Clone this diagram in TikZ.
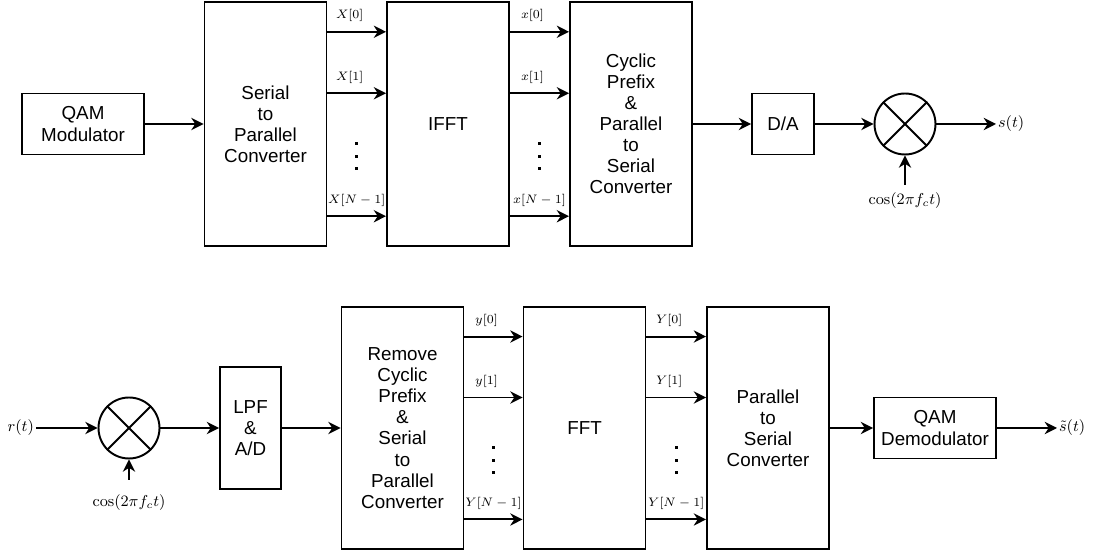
\documentclass[tikz,border=0pt]{standalone}
\usepackage{amsmath}
\usepackage{fontspec}
\newfontfamily\blockfont{Liberation Sans}
\usetikzlibrary{arrows.meta,calc,positioning}

\begin{document}
\begin{tikzpicture}[
  x=0.02cm,y=-0.02cm,
  block/.style={draw,line width=1.1pt,align=center,font=\blockfont\fontsize{10.7}{12}\selectfont,inner sep=0pt},
  tall/.style={block,minimum width=2.44cm},
  mixer/.style={draw,circle,line width=1.1pt,minimum size=1.22cm,inner sep=0pt},
  flow/.style={-{Stealth[length=7pt,width=7pt]},line width=1.1pt},
  sym/.style={font=\scriptsize,inner sep=1pt},
  wave/.style={font=\small,inner sep=1pt}
]
\useasboundingbox (0,0) rectangle (1099,553);

% Transmitter.
\node[block,minimum width=2.44cm,minimum height=1.22cm] (qam) at (83,124) {QAM\\Modulator};
\node[tall,minimum height=4.88cm] (sp) at (265.5,124) {Serial\\to\\Parallel\\Converter};
\node[tall,minimum height=4.88cm] (ifft) at (448,124) {IFFT};
\node[tall,minimum height=4.88cm] (cp) at (631,124) {Cyclic\\Prefix\\\&\\Parallel\\to\\Serial\\Converter};
\node[block,minimum width=1.24cm,minimum height=1.22cm] (da) at (783,124) {D/A};
\node[mixer] (mixa) at (905,124) {};
\draw[line width=1.1pt] (mixa.north east) -- (mixa.south west) (mixa.north west) -- (mixa.south east);
\node[wave,anchor=west] (st) at (996,124) {$s(t)$};
\coordinate (cosa) at (905,185);
\node[wave,anchor=north] (cosatext) at (905,191) {$\cos(2\pi f_c t)$};

\draw[flow] (qam.east) -- (qam.east -| sp.west);
\foreach \f/\n/\dx in {0.125/0/-4pt,0.375/1/-4pt,0.875/N-1/0pt} {
  \draw[flow] ($(sp.north east)!\f!(sp.south east)$) -- ($(ifft.north west)!\f!(ifft.south west)$)
    node[sym,midway,above=4pt,xshift=\dx] {$X[\n]$};
  \draw[flow] ($(ifft.north east)!\f!(ifft.south east)$) -- ($(cp.north west)!\f!(cp.south west)$)
    node[sym,midway,above=4pt,xshift=\dx] {$x[\n]$};
}
\coordinate (dotsa) at ($($(sp.north east)!0.631!(sp.south east)$)!0.5!($(ifft.north west)!0.631!(ifft.south west)$)$);
\coordinate (dotsb) at ($($(ifft.north east)!0.631!(ifft.south east)$)!0.5!($(cp.north west)!0.631!(cp.south west)$)$);
\foreach \d in {-12.5,0,12.5} {
  \fill ([shift={(-1.6,\d-1.6)}]dotsa) rectangle ++(3.2,3.2);
  \fill ([shift={(-1.6,\d-1.6)}]dotsb) rectangle ++(3.2,3.2);
}
\draw[flow] (cp.east |- da.west) -- (da.west);
\draw[flow] (da) -- (mixa);
\draw[flow] (mixa) -- (st);
\draw[flow] (cosa) -- (mixa);

% Receiver.
\node[wave,anchor=east] (rt) at (36,428) {$r(t)$};
\node[mixer] (mixb) at (129,428) {};
\draw[line width=1.1pt] (mixb.north east) -- (mixb.south west) (mixb.north west) -- (mixb.south east);
\coordinate (cosb) at (129,480);
\node[wave,anchor=north] (cosbtext) at (129,493) {$\cos(2\pi f_c t)$};
\node[block,minimum width=1.22cm,minimum height=2.44cm] (lpf) at (250.5,428) {LPF\\\&\\A/D};
\node[tall,minimum height=4.84cm] (rcp) at (402.5,428) {Remove\\Cyclic\\Prefix\\\&\\Serial\\to\\Parallel\\Converter};
\node[tall,minimum height=4.84cm] (fft) at (584.5,428) {FFT};
\node[tall,minimum height=4.84cm] (ps) at (768,428) {Parallel\\to\\Serial\\Converter};
\node[block,minimum width=2.44cm,minimum height=1.22cm] (qamd) at (935,428) {QAM\\Demodulator};
\node[wave,anchor=west] (sh) at (1057,428) {$\tilde{s}(t)$};

\draw[flow] (rt) -- (mixb);
\draw[flow] (cosb) -- (mixb);
\draw[flow] (mixb) -- (lpf);
\draw[flow] (lpf) -- (rcp);
\foreach \f/\m/\n/\dx in {0.125/y/0/-4pt,0.375/y/1/-4pt,0.875/Y/N-1/0pt} {
  \draw[flow] ($(rcp.north east)!\f!(rcp.south east)$) -- ($(fft.north west)!\f!(fft.south west)$)
    node[sym,midway,above=4pt,xshift=\dx] {$\m[\n]$};
  \draw[flow] ($(fft.north east)!\f!(fft.south east)$) -- ($(ps.north west)!\f!(ps.south west)$)
    node[sym,midway,above=4pt,xshift=\dx] {$Y[\n]$};
}
\coordinate (dotsc) at ($($(rcp.north east)!0.632!(rcp.south east)$)!0.5!($(fft.north west)!0.632!(fft.south west)$)$);
\coordinate (dotsd) at ($($(fft.north east)!0.632!(fft.south east)$)!0.5!($(ps.north west)!0.632!(ps.south west)$)$);
\foreach \d in {-12.5,0,12.5} {
  \fill ([shift={(-1.6,\d-1.6)}]dotsc) rectangle ++(3.2,3.2);
  \fill ([shift={(-1.6,\d-1.6)}]dotsd) rectangle ++(3.2,3.2);
}
\draw[flow] (ps.east |- qamd.west) -- (qamd.west);
\draw[flow] (qamd) -- (sh);
\end{tikzpicture}
\end{document}
